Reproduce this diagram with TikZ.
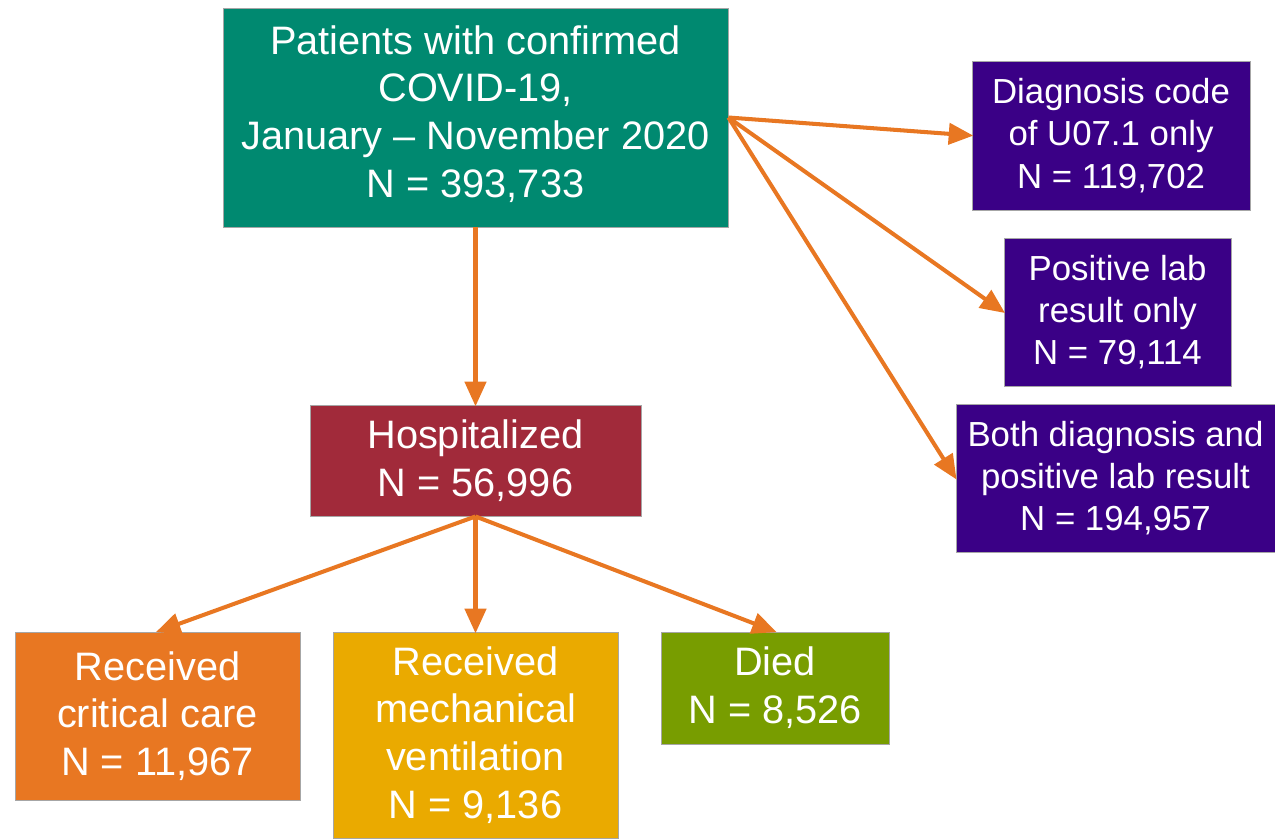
\documentclass[tikz,border=0pt]{standalone}
\usepackage{xcolor}
\usepackage{fontspec}
\setmainfont{Liberation Sans}
\usetikzlibrary{arrows.meta}
\definecolor{boxgreen}{RGB}{0,137,112}
\definecolor{boxpurple}{RGB}{58,0,134}
\definecolor{boxred}{RGB}{161,42,58}
\definecolor{boxorange}{RGB}{232,119,34}
\definecolor{boxyellow}{RGB}{234,170,0}
\definecolor{boxolive}{RGB}{120,157,0}
\definecolor{arrorange}{RGB}{232,119,34}
\begin{document}
\begin{tikzpicture}[
	box/.style={draw=gray!70,line width=0.5pt,text=white,align=center,inner sep=0pt,
		font=\fontsize{22.6}{27.2}\selectfont},
	smallbox/.style={box,font=\fontsize{19.8}{24}\selectfont},
	arr/.style={draw=arrorange,line width=2.3pt,-{Triangle[length=14pt,width=12pt]},shorten >=-1pt}
	]
	\useasboundingbox (0,0) rectangle (25.5,-16.76);

	\node[box,fill=boxgreen,minimum width=10.1cm,minimum height=4.38cm] (patients) at (9.51,-2.35)
		{Patients with confirmed\\COVID-19,\\January -- November 2020\\N = 393,733\vspace{4pt}};
	\node[smallbox,fill=boxpurple,minimum width=5.56cm,minimum height=2.98cm] (diag) at (22.22,-2.71)
		{Diagnosis code\\of U07.1 only\\N = 119,702};
	\node[smallbox,fill=boxpurple,minimum width=4.54cm,minimum height=2.96cm] (lab) at (22.35,-6.24)
		{Positive lab\\result only\\N = 79,114};
	\node[smallbox,fill=boxpurple,minimum width=6.38cm,minimum height=2.96cm] (both) at (22.31,-9.56)
		{Both diagnosis and\\positive lab result\\N = 194,957};
	\node[box,fill=boxred,minimum width=6.62cm,minimum height=2.22cm] (hosp) at (9.51,-9.21)
		{Hospitalized\\N = 56,996};
	\node[box,fill=boxorange,minimum width=5.70cm,minimum height=3.36cm] (crit) at (3.15,-14.32)
		{Received\\critical care\\N = 11,967};
	\node[box,fill=boxyellow,minimum width=5.70cm,minimum height=4.12cm] (mech) at (9.51,-14.70)
		{Received\\mechanical\\ventilation\\N = 9,136};
	\node[box,fill=boxolive,minimum width=4.56cm,minimum height=2.24cm] (died) at (15.50,-13.76)
		{Died\\N = 8,526};

	\draw[arr] (patients.south) -- (hosp.north);
	\draw[arr] (patients.east) -- (diag.west);
	\draw[arr] (patients.east) -- (lab.west);
	\draw[arr] (patients.east) -- (both.west);
	\draw[arr] (hosp.south) -- (crit.north);
	\draw[arr] (hosp.south) -- (mech.north);
	\draw[arr] (hosp.south) -- (died.north);
\end{tikzpicture}
\end{document}
